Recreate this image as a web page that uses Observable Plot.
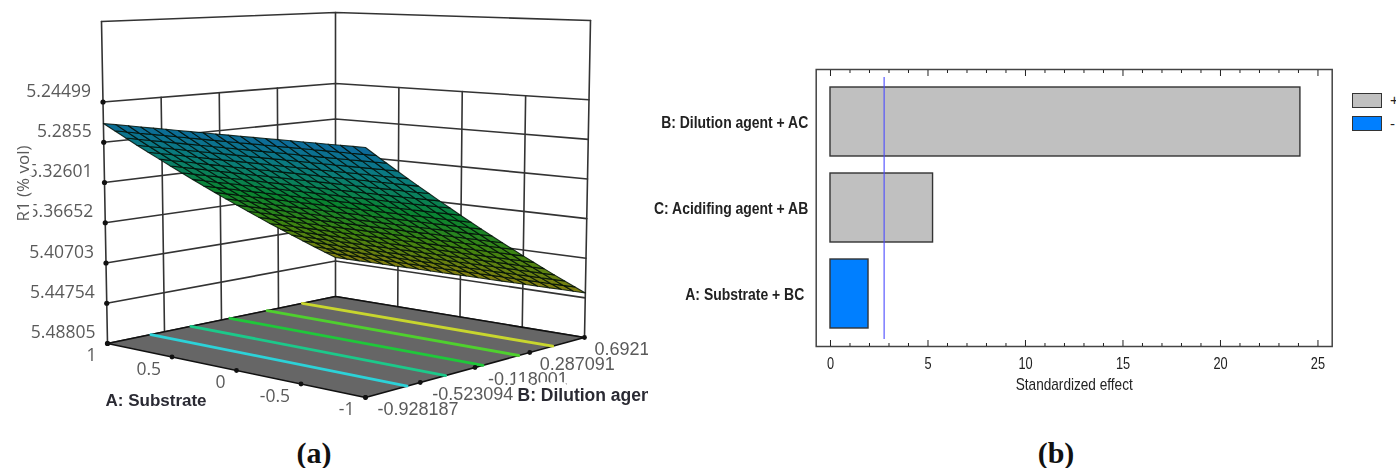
<!DOCTYPE html>
<html>
<head>
<meta charset="utf-8">
<style>
  html,body{margin:0;padding:0;background:#fff;}
  #page{position:relative;width:1396px;height:468px;overflow:hidden;background:#fff;}
  #a,#b{position:absolute;top:0;}
  #a{left:0;width:648px;height:468px;overflow:hidden;filter:blur(0.6px);}
  #b{left:648px;width:748px;height:468px;overflow:hidden;filter:blur(0.25px);}
  .cap{position:absolute;top:435px;font:bold 30px "Liberation Serif",serif;color:#111;line-height:36px;transform:translateX(-50%);}
  .sw{position:absolute;left:1352px;width:28px;height:13px;border:1.5px solid #333;}
  .lg{position:absolute;left:1390px;font:15px "Liberation Sans",sans-serif;color:#222;line-height:16px;}
</style>
<script src="https://cdn.jsdelivr.net/npm/d3@7"></script>
<script src="https://cdn.jsdelivr.net/npm/@observablehq/plot@0.6"></script>
</head>
<body>
<div id="page">
  <div id="a"></div>
  <div id="b"></div>
  <div class="sw" style="top:92.5px;background:#c0c0c0"></div>
  <div class="sw" style="top:115.5px;background:#007fff"></div>
  <div class="lg" style="top:92px">+</div>
  <div class="lg" style="top:116px">-</div>
  <div class="cap" style="left:314px">(a)</div>
  <div class="cap" style="left:1056px">(b)</div>
</div>
<script>
// ---------- panel (a): response surface ----------
const aTicks = [1, 0.5, 0, -0.5, -1];
const bTicks = [-0.928187, -0.523094, -0.118001, 0.287091, 0.692184];
const rTicks = [5.24499, 5.2855, 5.32601, 5.36652, 5.40703, 5.44754, 5.48805];
const rTop = 5.16397;
const aMesh = [1,0.9048,0.8095,0.7143,0.619,0.5238,0.4286,0.3333,0.2381,0.1429,0.0476,-0.0476,-0.1429,-0.2381,-0.3333,-0.4286,-0.5238,-0.619,-0.7143,-0.8095,-0.9048,-1];
const bMesh = [-0.928187,-0.851,-0.774,-0.697,-0.6196,-0.5424,-0.4653,-0.3881,-0.311,-0.2338,-0.1567,-0.0795,-0.0024,0.0748,0.1519,0.2291,0.3062,0.3834,0.4605,0.5377,0.6148,0.692184];
const r1AtAPlus  = [5.2666,5.2750,5.2834,5.2919,5.3003,5.3087,5.3171,5.3256,5.3340,5.3424,5.3508,5.3593,5.3677,5.3761,5.3845,5.3930,5.4014,5.4098,5.4182,5.4267,5.4351,5.4435];
const r1AtAMinus = [5.2605,5.2692,5.2778,5.2865,5.2952,5.3038,5.3125,5.3212,5.3298,5.3385,5.3472,5.3558,5.3645,5.3732,5.3818,5.3905,5.3992,5.4078,5.4165,5.4252,5.4338,5.4425];
const contourB = [-0.620, -0.335, -0.058, 0.206, 0.457];
const contourColors = ["#2cd2d8", "#1cc98a", "#1fc83a", "#4fd02e", "#c8d62e"];
const surfaceStops = [5.262, 5.30, 5.345, 5.39, 5.444];
const surfaceColors = ["#0d6a9c", "#0a7d7a", "#0a8430", "#3f8410", "#867e12"];

// camera: the box's eight corners on the page (A+/A-, B-/B+, floor/top)
const cam = {
  floor: {pm:[107,343], mm:[365,397], pp:[335,296], mp:[584,337]},
  top:   {pm:[101,21],  mm:[365,41],  pp:[335,12],  mp:[590,20]}
};
const aMax = aTicks[0], aMin = aTicks[4], bMin = bTicks[0], bMax = bTicks[4], rFloor = rTicks[6];
function project(a, b, r) {
  const s = (aMax - a) / (aMax - aMin), t = (b - bMin) / (bMax - bMin), u = (rFloor - r) / (rFloor - rTop);
  const bil = (q, i) => (1-s)*(1-t)*q.pm[i] + s*(1-t)*q.mm[i] + (1-s)*t*q.pp[i] + s*t*q.mp[i];
  return [0, 1].map(i => (1-u)*bil(cam.floor, i) + u*bil(cam.top, i));
}
const P = (a, b, r, extra) => { const [x, y] = project(a, b, r); return {x, y, ...extra}; };
const wallPath = r => [P(aMax,bMin,r), P(aMax,bMax,r), P(aMin,bMax,r)];
const r1At = (i, j) => { // i along A, j along B
  const s = (aMax - aMesh[i]) / (aMax - aMin);
  return (1-s)*r1AtAPlus[j] + s*r1AtAMinus[j];
};
// mesh cells, far ones first
const cells = [];
for (let j = bMesh.length - 2; j >= 0; --j) for (let i = 0; i < aMesh.length - 1; ++i) {
  const v = (r1At(i,j)+r1At(i+1,j)+r1At(i,j+1)+r1At(i+1,j+1))/4, id = `${i}-${j}`;
  cells.push(P(aMesh[i],bMesh[j],r1At(i,j),{id,v}), P(aMesh[i+1],bMesh[j],r1At(i+1,j),{id,v}),
             P(aMesh[i+1],bMesh[j+1],r1At(i+1,j+1),{id,v}), P(aMesh[i],bMesh[j+1],r1At(i,j+1),{id,v}));
}
const grey = "#333", lab = "#5a5a5a";
const floorPoly = [P(aMax,bMin,rFloor),P(aMin,bMin,rFloor),P(aMin,bMax,rFloor),P(aMax,bMax,rFloor)];
const wallMarks = [];
for (const r of [rTop, ...rTicks]) wallMarks.push(Plot.line(wallPath(r), {x:"x", y:"y", stroke:grey, strokeWidth:1.6}));
for (const b of bTicks) wallMarks.push(Plot.line([P(aMax,b,rFloor),P(aMax,b,b===bMin||b===bMax?rTop:rTicks[0])], {x:"x", y:"y", stroke:grey, strokeWidth:1.6}));
for (const a of aTicks.slice(1)) wallMarks.push(Plot.line([P(a,bMax,rFloor),P(a,bMax,a===aMin?rTop:rTicks[0])], {x:"x", y:"y", stroke:grey, strokeWidth:1.6}));
const contourMarks = contourB.map((b, k) => Plot.line([P(aMax,b,rFloor),P(aMin,b,rFloor)], {x:"x", y:"y", stroke:contourColors[k], strokeWidth:2.8}));
const rPts = rTicks.map(r => P(aMax,bMin,r,{t:String(r)}));
const aPts = aTicks.map(a => P(a,bMin,rFloor,{t:String(a)}));
const bPts = bTicks.map(b => P(aMin,b,rFloor,{t:String(b)}));
const tickFont = {fontFamily:"'Open Sans',sans-serif", fontSize:17.5, fill:lab};
const bFont = {fontFamily:"'Liberation Sans',sans-serif", fontSize:18, fill:lab};
const plotA = Plot.plot({
  width:648, height:468, margin:0,
  x:{type:"identity", axis:null}, y:{type:"identity", axis:null},
  color:{type:"linear", domain:surfaceStops, range:surfaceColors},
  marks:[
    ...wallMarks,
    Plot.dot(rPts, {x:"x", y:"y", r:2.6, fill:"#111"}),
    Plot.line(floorPoly, {x:"x", y:"y", curve:"linear-closed", fill:"#666", stroke:"#111", strokeWidth:1.6}),
    ...contourMarks,
    Plot.dot(aPts, {x:"x", y:"y", r:2.4, fill:"#111"}),
    Plot.dot(bPts, {x:"x", y:"y", r:2.4, fill:"#111"}),
    Plot.line(cells, {x:"x", y:"y", z:"id", fill:"v", curve:"linear-closed", stroke:"#021008", strokeOpacity:0.85, strokeWidth:1.1}),
    Plot.text(rPts, {x:"x", y:"y", text:"t", textAnchor:"end", dx:-12, dy:-11, ...tickFont}),
    Plot.text(aPts, {x:"x", y:"y", text:"t", textAnchor:"end", dx:-11, dy:12, ...tickFont}),
    Plot.text(bPts.slice(2,3), {x:"x", y:"y", text:"t", textAnchor:"start", dx:13, dy:12, ...bFont}),
    Plot.text(["B: Dilution agent"], {x:()=>517, y:()=>395, text:d=>d, textAnchor:"start", fontFamily:"'Liberation Sans',sans-serif", fontWeight:"bold", fontSize:17.5, fill:"#2a2a33", stroke:"#fff", strokeWidth:12}),
    Plot.text(bPts.slice(0,2), {x:"x", y:"y", text:"t", textAnchor:"start", dx:12, dy:12, ...bFont}),
    Plot.text(bPts.slice(3), {x:"x", y:"y", text:"t", textAnchor:"start", dx:10, dy:12, ...bFont}),
    Plot.text(["A: Substrate"], {x:()=>105, y:()=>400, text:d=>d, textAnchor:"start", fontFamily:"'Liberation Sans',sans-serif", fontWeight:"bold", fontSize:17, fill:"#2a2a33"}),
    Plot.text(["R1 (% vol)"], {x:()=>23, y:()=>183, text:d=>d, rotate:-90, fontFamily:"'Open Sans',sans-serif", fontSize:17, fill:lab, stroke:"#fff", strokeWidth:9})
  ]
});
document.getElementById("a").append(plotA);

// ---------- panel (b): Pareto of standardized effects ----------
const effectNames = ["B: Dilution agent + AC", "C: Acidifing agent + AB", "A: Substrate + BC"];
const effectValues = [24.1, 5.26, 1.95];
const effectSigns = ["+", "+", "-"];
const criticalValue = 2.75;
const majorTicks = [0, 5, 10, 15, 20, 25];
const minorTicks = d3.range(0, 26).filter(v => v % 5);
const effects = effectNames.map((name, i) => ({name, value:effectValues[i], sign:effectSigns[i]}));
const narrow = {fontFamily:"'Liberation Sans',sans-serif"};
const xMin = -0.733;
const plotB = Plot.plot({
  width:748, height:468,
  marginLeft:167.7, marginRight:64.3, marginTop:69, marginBottom:122,
  x:{domain:[xMin, 25.73], axis:null},
  y:{type:"band", domain:effectNames, paddingInner:0.2, paddingOuter:0.192, axis:null},
  marks:[
    Plot.frame({stroke:"#444", strokeWidth:1.5}),
    Plot.barX(effects, {x1:()=>0, x2:"value", y:"name", fill:d => d.sign === "+" ? "#c0c0c0" : "#007fff", stroke:"#333", strokeWidth:1.4}),
    Plot.ruleX([criticalValue], {stroke:"#4b4bff", strokeWidth:1.1, insetTop:8, insetBottom:7}),
    Plot.axisX({anchor:"bottom", ticks:majorTicks, tickSize:-6, tickPadding:17, label:null, stroke:"#222", fontSize:16, fill:"#222", ...narrow, className:"sq"}),
    Plot.axisX({anchor:"bottom", ticks:minorTicks, tickSize:-3, label:null, stroke:"#222", fill:"none"}),
    Plot.axisX({anchor:"top", ticks:majorTicks, tickSize:-6, label:null, stroke:"#222", fill:"none"}),
    Plot.axisX({anchor:"top", ticks:minorTicks, tickSize:-3, label:null, stroke:"#222", fill:"none"}),
    Plot.text(effects.slice(0,2), {x:()=>xMin, y:"name", text:"name", textAnchor:"end", dx:-8, dy:1, fontSize:17, fontWeight:"bold", fill:"#222", ...narrow, className:"sq2"}),
    Plot.text(effects.slice(2), {x:()=>xMin, y:"name", text:"name", textAnchor:"end", dx:-12, dy:1, fontSize:17, fontWeight:"bold", fill:"#222", ...narrow, className:"sq2"}),
    Plot.text(["Standardized effect"], {x:()=>12.5, frameAnchor:"bottom", dy:43, text:d=>d, fontSize:17, fill:"#222", ...narrow, className:"sq"})
  ]
});
document.getElementById("b").append(plotB);
// the reference's labels are condensed: squeeze the glyphs horizontally
const squeeze = (sel, k) => plotB.querySelectorAll(sel + " text").forEach(t => {
  t.setAttribute("textLength", (t.getComputedTextLength() * k).toFixed(1));
  t.setAttribute("lengthAdjust", "spacingAndGlyphs");
});
squeeze(".sq", 0.8);
squeeze(".sq2", 0.82);
</script>
</body>
</html>
